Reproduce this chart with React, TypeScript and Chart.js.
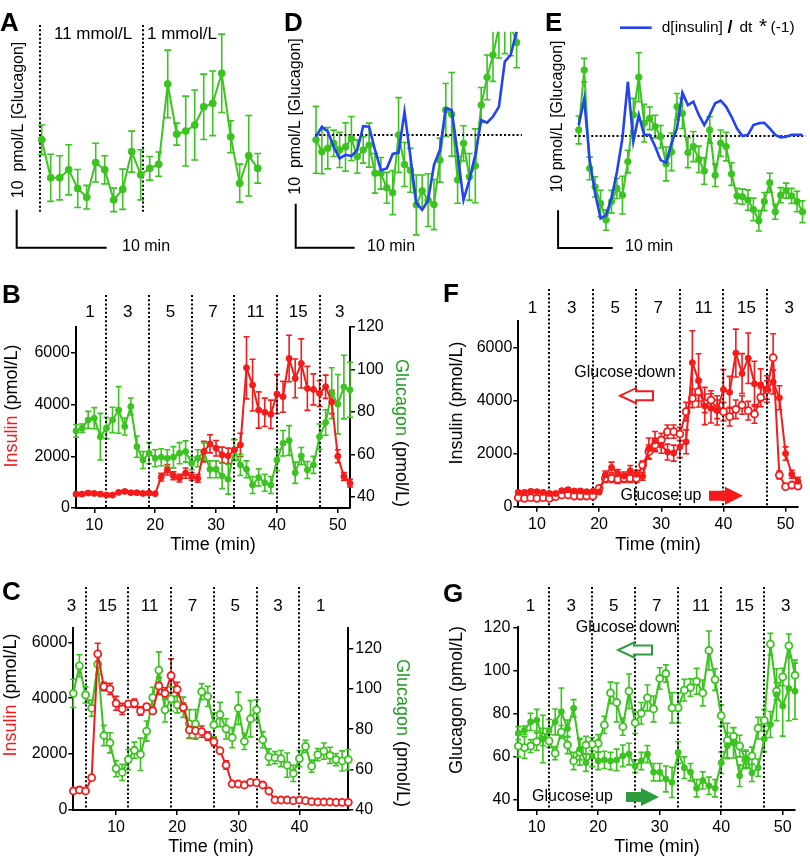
import React, { useEffect, useRef } from 'react';
import { Chart, registerables } from 'chart.js';
Chart.register(...registerables);

const FONT = "'Liberation Sans', Arial, Helvetica, sans-serif";
const RED = '#f51b1b';
const GREEN = '#3bc41f';
const TITLE_GREEN = '#1f9e22';
const ARROW_GREEN = '#2c9c3c';
const BLUE = '#2342f2';
const BLACK = '#000000';

// ---------- Panel A : glucagon (relative, pmol/L) vs time (min) ----------
const aTime = [0, 1, 2, 3, 4, 5, 6, 7, 8, 9, 10, 11, 12, 13, 14, 15, 16, 17, 18, 19, 20, 21, 22, 23, 24];
const aGlu = [24.6, 14.6, 14.6, 16.7, 11.8, 9.5, 18.6, 16.7, 8.8, 11.6, 21.5, 15.4, 17.1, 18.2, 39.3, 26.1, 26.9, 28.5, 33.3, 34.2, 42.1, 25.4, 13.2, 20.4, 17.1];
const aErr = [3.9, 6.2, 5.8, 6.6, 5.0, 3.1, 5.1, 3.7, 3.1, 5.3, 5.4, 6.6, 3.1, 3.2, 8.9, 2.9, 9.2, 9.2, 8.6, 8.5, 10.3, 4.2, 5.0, 10.6, 3.9];
const aSwitch = [-0.2, 11.3];

// ---------- Panel D ----------
const dTime = [0, 1, 2, 3, 4, 5, 6, 7, 8, 9, 10, 11, 12, 13, 14, 15, 16, 17, 18, 19, 20, 21, 22, 23, 24, 25, 26, 27, 28, 29, 30, 31, 32, 33, 34];
const dGlu = [-1.1, -3.8, -3.0, -1.9, -3.4, -2.7, -0.8, -4.9, -3.4, -2.3, -8.7, -8.7, -12.0, -13.1, 0.0, -6.7, -8.0, -15.9, -12.7, -14.8, -15.8, -5.7, 5.7, 4.7, -10.2, -1.9, -9.5, -7.0, 6.8, 13.1, 18.2, 24.5, 26.5, 25.0, 21.0];
const dErr = [7.6, 5.0, 4.7, 3.0, 4.0, 5.5, 5.0, 3.8, 3.0, 5.0, 4.5, 3.6, 3.5, 5.0, 8.5, 5.0, 5.0, 6.8, 3.6, 6.0, 5.7, 5.0, 6.0, 9.5, 5.3, 4.0, 5.3, 8.4, 4.0, 5.1, 6.0, 7.0, 8.0, 7.0, 5.7];
const dDeriv = [-0.4, 1.9, 0.8, -2.7, -5.3, -4.5, -4.8, -3.4, 2.0, 1.9, -3.4, -8.0, -7.6, -4.3, -4.0, 5.3, -4.9, -15.5, -17.0, -14.8, -6.8, -3.4, 6.1, 5.7, -4.2, -14.8, -10.2, -4.5, 3.4, 2.8, 4.2, 6.4, 16.7, 18.2, 23.5];

// ---------- Panel E ----------
const eTime = [0, 1, 2, 3, 4, 5, 6, 7, 8, 9, 10, 11, 12, 13, 14, 15, 16, 17, 18, 19, 20, 21, 22, 23, 24, 25, 26, 27, 28, 29, 30, 31, 32, 33, 34, 35, 36, 37, 38, 39, 40, 41];
const eGlu = [1.6, 17.5, -8.6, -13.5, -17.9, -22.3, -17.4, -13.9, -15.7, -6.8, 5.6, 15.6, 3.4, 4.7, 2.5, -0.2, -7.4, -4.2, 7.8, 6.0, -4.4, -2.8, -6.2, -9.3, 1.6, -10.4, -1.9, -2.8, -10.1, -15.9, -16.1, -17.0, -19.5, -22.5, -17.4, -12.4, -20.1, -15.7, -14.5, -15.9, -17.4, -20.1];
const eErr = [3.7, 3.1, 3.0, 2.7, 3.5, 2.7, 3.0, 2.7, 5.0, 3.0, 4.4, 6.5, 5.0, 3.0, 3.0, 3.0, 4.5, 5.0, 3.5, 4.0, 4.0, 4.0, 3.5, 3.5, 3.5, 3.0, 3.5, 3.8, 3.0, 2.0, 2.0, 2.7, 3.0, 2.7, 2.4, 2.5, 2.0, 2.0, 2.0, 2.0, 2.7, 2.9];
const eDeriv = [2.9, 9.8, -6.4, -15.2, -21.9, -21.0, -16.5, -9.5, -0.6, 14.4, -1.5, 5.6, 0.3, 0.3, -2.8, -6.4, -7.1, -1.9, 2.0, 11.5, 8.2, 9.1, 5.6, 2.9, 5.6, 8.7, 9.4, 7.8, 5.1, 2.0, 0.0, 0.3, 2.9, 3.4, 3.5, 2.0, 0.3, -0.4, -0.2, 0.3, 0.3, 0.3];

// ---------- Panel B (glucose up: 1,3,5,7,11,15,3 mM) ----------
const upSegments = ['1', '3', '5', '7', '11', '15', '3'];
const upSwitch = [12, 19, 26, 33, 40, 47];
const bTime = [7, 8, 9, 10, 11, 12, 13, 14, 15, 16, 17, 18, 19, 20, 21, 22, 23, 24, 25, 26, 27, 28, 29, 30, 31, 32, 33, 34, 35, 36, 37, 38, 39, 40, 41, 42, 43, 44, 45, 46, 47, 48, 49, 50, 51, 52];
const bIns = [540, 540, 578, 565, 540, 500, 500, 604, 642, 591, 591, 565, 578, 552, 1195, 1478, 1246, 1156, 1349, 1221, 1144, 2184, 2480, 2313, 2056, 2017, 2248, 2441, 5422, 4754, 3790, 3700, 3623, 4407, 4304, 5782, 5011, 5589, 4626, 4587, 4430, 4690, 4100, 2000, 1220, 960];
const bInsErr = [60, 60, 60, 60, 60, 60, 60, 60, 60, 60, 60, 60, 60, 60, 150, 200, 150, 150, 200, 150, 150, 400, 350, 300, 300, 300, 400, 450, 1200, 1000, 700, 550, 550, 750, 600, 900, 750, 950, 850, 600, 500, 450, 450, 250, 150, 150];
const bGlu = [71.0, 72.3, 76.2, 77.0, 68.3, 72.3, 76.2, 80.9, 73.1, 82.5, 63.6, 57.3, 60.5, 58.1, 58.6, 58.1, 58.6, 60.5, 61.3, 55.7, 58.1, 61.3, 52.9, 52.9, 49.8, 48.2, 62.0, 55.0, 52.9, 45.5, 49.1, 46.6, 45.5, 57.3, 65.2, 66.5, 51.3, 59.2, 52.6, 55.0, 68.3, 75.0, 88.8, 83.6, 91.7, 90.4];
const bGluErr = [3, 2, 4, 5, 11, 5, 6, 11, 4, 4, 5, 4, 5, 4, 4, 4, 5, 5, 5, 3, 4, 4, 4, 4, 6, 7, 5, 5, 4, 4, 4, 4, 4, 5, 6, 7, 5, 4, 4, 4, 6, 6, 12, 14, 15, 13];

// ---------- Panel C (glucose down: 3,15,11,7,5,3,1 mM) ----------
const downSegments = ['3', '15', '11', '7', '5', '3', '1'];
const downSwitch = [5, 12, 19, 26, 33, 40];
const cTime = [3, 4, 5, 6, 7, 8, 9, 10, 11, 12, 13, 14, 15, 16, 17, 18, 19, 20, 21, 22, 23, 24, 25, 26, 27, 28, 29, 30, 31, 32, 33, 34, 35, 36, 37, 38, 39, 40, 41, 42, 43, 44, 45, 46, 47, 48];
const cIns = [680, 716, 680, 1157, 5583, 4414, 4330, 3817, 3614, 3793, 3817, 3543, 3698, 3543, 4437, 4175, 4807, 4318, 3674, 2863, 2839, 2803, 2648, 2445, 2123, 1610, 930, 930, 895, 990, 978, 895, 680, 358, 358, 358, 334, 358, 334, 298, 286, 286, 286, 274, 274, 274];
const cInsErr = [40, 40, 40, 60, 380, 150, 200, 250, 200, 100, 150, 150, 100, 100, 300, 200, 600, 250, 150, 300, 300, 200, 150, 150, 100, 150, 60, 50, 50, 50, 50, 50, 40, 30, 30, 30, 30, 30, 30, 30, 30, 30, 30, 30, 30, 30];
const cGlu = [97.8, 111.4, 97.0, 90.4, 112.2, 76.9, 73.3, 60.5, 58.6, 65.0, 69.6, 67.6, 79.1, 95.8, 109.3, 89.6, 95.0, 92.1, 90.9, 82.7, 82.7, 98.6, 96.3, 82.2, 87.3, 80.2, 75.8, 90.4, 74.0, 85.2, 89.6, 74.8, 66.3, 65.9, 65.5, 62.2, 58.1, 65.5, 71.5, 61.7, 67.4, 69.2, 67.1, 65.0, 64.3, 65.0];
const cGluErr = [7, 5.5, 4, 4, 5, 5, 5, 4, 4, 5, 4, 8, 5, 5, 9, 6, 6, 4, 5, 7, 7, 4, 5, 6, 6, 5, 5, 8, 4, 9, 5, 4, 4, 3, 4, 6, 4, 4, 3, 3, 3, 4, 4, 3, 5, 5];

// ---------- Panel F (glucose-down insulin, replotted on the glucose-up time axis) ----------
const fOpenIns = [339, 314, 339, 314, 339, 314, 377, 440, 440, 402, 402, 402, 402, 690, 1067, 1067, 1029, 1067, 1067, 1067, 1570, 2071, 2322, 2510, 2824, 2824, 2736, 3575, 4080, 4328, 3891, 4016, 3666, 3575, 3387, 3666, 3827, 3613, 3489, 4117, 4392, 5607, 1192, 753, 816, 778];
const fOpenErr = [60, 60, 60, 60, 60, 60, 60, 60, 60, 60, 60, 60, 60, 80, 150, 150, 150, 150, 150, 150, 150, 250, 250, 250, 250, 250, 250, 350, 350, 350, 350, 350, 350, 350, 350, 350, 350, 350, 350, 350, 350, 900, 150, 60, 60, 60];
// G: glucose-down glucagon (panel C) is replotted with reversed time: t_G = 55 - t_C
const gReverse = 55;

const pts = (xs: number[], ys: number[]) => xs.map((x, i) => ({ x, y: ys[i] }));

function series(data: any[], errors: number[] | null, color: string, o: any = {}) {
  return {
    data,
    errors,
    capW: o.cap ?? 3,
    errW: o.errW ?? 1.6,
    borderColor: color,
    backgroundColor: color,
    borderWidth: o.bw ?? 2,
    pointRadius: o.r ?? 3,
    pointHoverRadius: o.r ?? 3,
    pointBackgroundColor: o.open ? '#ffffff' : color,
    pointBorderColor: color,
    pointBorderWidth: o.open ? 1.8 : 1,
    tension: 0,
    clip: o.clip ?? false,
    xAxisID: 'x',
    yAxisID: o.yAxisID ?? 'y',
  };
}

const errPlugin = {
  id: 'errbars',
  beforeDatasetsDraw(chart: any) {
    const ctx = chart.ctx;
    chart.data.datasets.forEach((ds: any, i: number) => {
      if (!ds.errors) return;
      const meta = chart.getDatasetMeta(i);
      const xs = chart.scales[meta.xAxisID];
      const ys = chart.scales[meta.yAxisID];
      ctx.save();
      if (ds.clip && typeof ds.clip === 'object' && typeof ds.clip.top === 'number') {
        ctx.beginPath();
        ctx.rect(0, chart.chartArea.top, chart.width, chart.height);
        ctx.clip();
      }
      ctx.strokeStyle = ds.borderColor;
      ctx.lineWidth = ds.errW;
      ds.data.forEach((p: any, j: number) => {
        const e = ds.errors[j];
        if (!e) return;
        const x = xs.getPixelForValue(p.x);
        const y1 = ys.getPixelForValue(p.y - e);
        const y2 = ys.getPixelForValue(p.y + e);
        const c = ds.capW;
        ctx.beginPath();
        ctx.moveTo(x, y1); ctx.lineTo(x, y2);
        ctx.moveTo(x - c, y1); ctx.lineTo(x + c, y1);
        ctx.moveTo(x - c, y2); ctx.lineTo(x + c, y2);
        ctx.stroke();
      });
      ctx.restore();
    });
  },
};

function overlay(under: any, over: any) {
  return {
    id: 'overlay',
    beforeDatasetsDraw(chart: any) {
      if (!under) return;
      const c = chart.ctx; c.save(); under(c, chart); c.restore();
    },
    afterDraw(chart: any) {
      if (!over) return;
      const c = chart.ctx; c.save(); over(c, chart); c.restore();
    },
  };
}

function txt(ctx: any, s: string, x: number, y: number, size: number, o: any = {}) {
  ctx.save();
  ctx.font = `${o.bold ? 'bold ' : ''}${size}px ${FONT}`;
  ctx.fillStyle = o.color ?? BLACK;
  ctx.textAlign = o.align ?? 'left';
  ctx.textBaseline = o.baseline ?? 'middle';
  ctx.fillText(s, x, y);
  ctx.restore();
}

function rotParts(ctx: any, parts: [string, string][], cx: number, cy: number, angle: number, size: number) {
  ctx.save();
  ctx.font = `${size}px ${FONT}`;
  ctx.translate(cx, cy);
  ctx.rotate(angle);
  const total = parts.reduce((s, [t]) => s + ctx.measureText(t).width, 0);
  let x = -total / 2;
  ctx.textBaseline = 'middle';
  ctx.textAlign = 'left';
  for (const [t, c] of parts) {
    ctx.fillStyle = c;
    ctx.fillText(t, x, 0);
    x += ctx.measureText(t).width;
  }
  ctx.restore();
}

function vDotted(ctx: any, chart: any, ts: number[], yTop: number, yBottom?: number) {
  const xs = chart.scales.x;
  const bottom = yBottom ?? chart.chartArea.bottom;
  ctx.save();
  ctx.strokeStyle = BLACK;
  ctx.lineWidth = 2;
  ctx.setLineDash([2, 2.2]);
  for (const t of ts) {
    const x = Math.round(xs.getPixelForValue(t));
    ctx.beginPath(); ctx.moveTo(x, yTop); ctx.lineTo(x, bottom); ctx.stroke();
  }
  ctx.restore();
}

function hDotted(ctx: any, chart: any, v: number, t1: number, t2: number) {
  const xs = chart.scales.x, ys = chart.scales.y;
  const y = Math.round(ys.getPixelForValue(v));
  ctx.save();
  ctx.strokeStyle = BLACK; ctx.lineWidth = 2; ctx.setLineDash([2, 2.2]);
  ctx.beginPath(); ctx.moveTo(xs.getPixelForValue(t1), y); ctx.lineTo(xs.getPixelForValue(t2), y); ctx.stroke();
  ctx.restore();
}

function segLabels(ctx: any, chart: any, labels: string[], ts: number[], y: number) {
  const xs = chart.scales.x;
  labels.forEach((l, i) => txt(ctx, l, xs.getPixelForValue(ts[i]), y, 17, { align: 'center' }));
}

function scaleBar(ctx: any, chart: any, t0: number, v0: number) {
  const xs = chart.scales.x, ys = chart.scales.y;
  const x0 = xs.getPixelForValue(t0), y0 = ys.getPixelForValue(v0);
  const x1 = xs.getPixelForValue(t0 + 10), y1 = ys.getPixelForValue(v0 + 10);
  ctx.save();
  ctx.strokeStyle = BLACK; ctx.lineWidth = 2;
  ctx.beginPath(); ctx.moveTo(x0, y1); ctx.lineTo(x0, y0); ctx.lineTo(x1, y0); ctx.stroke();
  ctx.restore();
}

function blockArrow(ctx: any, x1: number, x2: number, y: number, dir: string, shaftH: number, headH: number, headL: number, color: string, hollow: boolean) {
  ctx.save();
  ctx.beginPath();
  if (dir === 'right') {
    const xb = x2 - headL;
    ctx.moveTo(x1, y - shaftH / 2); ctx.lineTo(xb, y - shaftH / 2); ctx.lineTo(xb, y - headH / 2);
    ctx.lineTo(x2, y); ctx.lineTo(xb, y + headH / 2); ctx.lineTo(xb, y + shaftH / 2); ctx.lineTo(x1, y + shaftH / 2);
  } else {
    const xb = x1 + headL;
    ctx.moveTo(x2, y - shaftH / 2); ctx.lineTo(xb, y - shaftH / 2); ctx.lineTo(xb, y - headH / 2);
    ctx.lineTo(x1, y); ctx.lineTo(xb, y + headH / 2); ctx.lineTo(xb, y + shaftH / 2); ctx.lineTo(x2, y + shaftH / 2);
  }
  ctx.closePath();
  if (hollow) {
    ctx.fillStyle = '#ffffff'; ctx.fill();
    ctx.lineWidth = 2; ctx.strokeStyle = color; ctx.stroke();
  } else {
    ctx.fillStyle = color; ctx.fill();
  }
  ctx.restore();
}

function base(padding: any) {
  return {
    responsive: false,
    animation: false,
    devicePixelRatio: 1,
    events: [],
    layout: { padding },
    plugins: { legend: { display: false }, tooltip: { enabled: false } },
  };
}

function hidden(min: number, max: number) {
  return { type: 'linear', display: false, min, max, bounds: 'data' };
}

function axis(pos: string, min: number, max: number, ticks: number[], size: number, pad = 2) {
  return {
    type: 'linear',
    position: pos,
    min, max,
    bounds: 'data',
    afterBuildTicks: (s: any) => { s.ticks = ticks.map((v) => ({ value: v })); },
    afterFit: (s: any) => { if (pos === 'bottom') s.height = size; else s.width = size; },
    grid: { display: true, drawOnChartArea: false, drawTicks: true, tickLength: 5, color: BLACK, lineWidth: 1.5 },
    border: { display: true, color: BLACK, width: 2 },
    ticks: {
      color: BLACK,
      font: { size: 16, family: FONT },
      padding: pad,
      maxRotation: 0,
      autoSkip: false,
      callback: (v: any) => String(v),
    },
    title: { display: false },
  };
}

// panel placement on the page (x, y, w, h)
const PANELS: any[] = [];

// ---- A ----
PANELS.push({
  x: 0, y: 0, w: 272, h: 262,
  config: () => ({
    type: 'line',
    data: { datasets: [series(pts(aTime, aGlu), aErr, GREEN, { r: 3.5, cap: 3.5 })] },
    options: { ...base({ left: 10, right: 6, top: 20, bottom: 10 }), scales: { x: hidden(-3.522, 24.92), y: hidden(-4.92, 56.13) } },
    plugins: [errPlugin, overlay(
      (ctx: any, ch: any) => {
        const ys = ch.scales.y;
        vDotted(ctx, ch, aSwitch, ys.getPixelForValue(54.8), ys.getPixelForValue(5.3));
      },
      (ctx: any, ch: any) => {
        txt(ctx, 'A', 0, 31, 26, { bold: true, baseline: 'alphabetic' });
        txt(ctx, '11 mmol/L', 54, 34, 17);
        txt(ctx, '1 mmol/L', 147, 34, 17);
        rotParts(ctx, [['10  pmol/L [Glucagon]', BLACK]], 19, 120, -Math.PI / 2, 16);
        scaleBar(ctx, ch, -2.78, -3.8);
        txt(ctx, '10 min', 122, 247, 16);
      })],
  }),
});

// ---- D ----
PANELS.push({
  x: 275, y: 0, w: 262, h: 262,
  config: () => ({
    type: 'line',
    data: {
      datasets: [
        { ...series(pts(dTime, dDeriv), null, BLUE, { r: 0, bw: 2.6, clip: { left: false, top: 0, right: false, bottom: false } }) },
        series(pts(dTime, dGlu), dErr, GREEN, { r: 3.3, cap: 3.3, clip: { left: false, top: 0, right: false, bottom: false } }),
      ],
    },
    options: { ...base({ left: 10, right: 5, top: 31.7, bottom: 10 }), scales: { x: hidden(-5.254, 36.61), y: hidden(-26.59, 23.48) } },
    plugins: [errPlugin, overlay(
      (ctx: any, ch: any) => { hDotted(ctx, ch, 0, -0.17, 34.9); },
      (ctx: any, ch: any) => {
        txt(ctx, 'D', 9, 31, 26, { bold: true, baseline: 'alphabetic' });
        rotParts(ctx, [['10  pmol/L [Glucagon]', BLACK]], 20.5, 116.5, -Math.PI / 2, 16);
        scaleBar(ctx, ch, -3.44, -25.6);
        txt(ctx, '10 min', 92, 247, 16);
      })],
  }),
});

// ---- E ----
PANELS.push({
  x: 540, y: 0, w: 270, h: 262,
  config: () => ({
    type: 'line',
    data: {
      datasets: [
        series(pts(eTime, eDeriv), null, BLUE, { r: 0, bw: 2.6 }),
        series(pts(eTime, eGlu), eErr, GREEN, { r: 3.2, cap: 3.2 }),
      ],
    },
    options: { ...base({ left: 5, right: 0, top: 20, bottom: 10 }), scales: { x: hidden(-6.186, 41.605), y: hidden(-30.79, 30.79) } },
    plugins: [errPlugin, overlay(
      (ctx: any, ch: any) => { hDotted(ctx, ch, 0, -0.78, 41.6); },
      (ctx: any, ch: any) => {
        txt(ctx, 'E', 5, 31, 26, { bold: true, baseline: 'alphabetic' });
        ctx.save();
        ctx.strokeStyle = BLUE; ctx.lineWidth = 2.6;
        ctx.beginPath(); ctx.moveTo(80, 27.7); ctx.lineTo(111.7, 27.7); ctx.stroke();
        ctx.restore();
        txt(ctx, 'd[insulin]', 121.7, 28, 15.5);
        txt(ctx, '/', 187.5, 28, 18, { bold: true });
        txt(ctx, 'dt', 199.5, 28, 15.5);
        txt(ctx, '*', 219, 27, 21);
        txt(ctx, '(-1)', 230.5, 28, 15.5);
        rotParts(ctx, [['10 pmol/L [Glucagon]', BLACK]], 18, 116.5, -Math.PI / 2, 16);
        scaleBar(ctx, ch, -3.79, -29.7);
        txt(ctx, '10 min', 85, 247, 16);
      })],
  }),
});

// ---- B ----
PANELS.push({
  x: 0, y: 262, w: 410, h: 296,
  config: () => ({
    type: 'line',
    data: {
      datasets: [
        series(pts(bTime, bIns), bInsErr, RED, { yAxisID: 'yL', r: 3 }),
        series(pts(bTime, bGlu), bGluErr, GREEN, { yAxisID: 'yR', r: 3 }),
      ],
    },
    options: {
      ...base({ left: 0, right: 0, top: 65, bottom: 0 }),
      scales: {
        x: axis('bottom', 7, 52, [10, 20, 30, 40, 50], 50, 3),
        yL: axis('left', 0, 7000, [0, 2000, 4000, 6000], 76, 1),
        yR: axis('right', 34.67, 120, [40, 60, 80, 100, 120], 60, 2),
      },
    },
    plugins: [errPlugin, overlay(
      (ctx: any, ch: any) => { vDotted(ctx, ch, upSwitch, 33); },
      (ctx: any, ch: any) => {
        txt(ctx, 'B', 2, 41, 26, { bold: true, baseline: 'alphabetic' });
        segLabels(ctx, ch, upSegments, [9.3, 15.5, 22.5, 29.5, 36.5, 43.5, 50.3], 50);
        rotParts(ctx, [['Insulin', RED], [' (pmol/L)', BLACK]], 12.5, 144, -Math.PI / 2, 18);
        rotParts(ctx, [['Glucagon', TITLE_GREEN], [' (pmol/L)', BLACK]], 400.5, 171, Math.PI / 2, 18);
        txt(ctx, 'Time (min)', 213, 283, 18, { align: 'center' });
      })],
  }),
});

// ---- C ----
PANELS.push({
  x: 0, y: 560, w: 410, h: 296,
  config: () => ({
    type: 'line',
    data: {
      datasets: [
        series(pts(cTime, cIns), cInsErr, RED, { yAxisID: 'yL', r: 3.5, open: true }),
        series(pts(cTime, cGlu), cGluErr, GREEN, { yAxisID: 'yR', r: 3.5, open: true }),
      ],
    },
    options: {
      ...base({ left: 0, right: 0, top: 68.3, bottom: 0 }),
      scales: {
        x: axis('bottom', 3, 48, [10, 20, 30, 40], 46, 3),
        yL: axis('left', 0, 6500, [0, 2000, 4000, 6000], 73.3, 1),
        yR: axis('right', 40, 130, [40, 60, 80, 100, 120], 61.7, 2),
      },
    },
    plugins: [errPlugin, overlay(
      (ctx: any, ch: any) => { vDotted(ctx, ch, downSwitch, 27); },
      (ctx: any, ch: any) => {
        txt(ctx, 'C', 2, 40, 26, { bold: true, baseline: 'alphabetic' });
        segLabels(ctx, ch, downSegments, [2.7, 8.6, 15.5, 22.5, 29.5, 36.5, 43.5], 46.7);
        rotParts(ctx, [['Insulin', RED], [' (pmol/L)', BLACK]], 11.5, 135, -Math.PI / 2, 18);
        rotParts(ctx, [['Glucagon', TITLE_GREEN], [' (pmol/L)', BLACK]], 401.5, 173, Math.PI / 2, 18);
        txt(ctx, 'Time (min)', 211, 287.5, 18, { align: 'center' });
      })],
  }),
});

// ---- F ----
PANELS.push({
  x: 410, y: 262, w: 400, h: 296,
  config: () => ({
    type: 'line',
    data: {
      datasets: [
        series(pts(bTime, bIns), bInsErr, RED, { r: 3 }),
        series(pts(bTime, fOpenIns), fOpenErr, RED, { r: 3.5, open: true }),
      ],
    },
    options: {
      ...base({ left: 0, right: 12, top: 58.7, bottom: 0 }),
      scales: {
        x: axis('bottom', 7, 52, [10, 20, 30, 40, 50], 51.3, 3),
        y: axis('left', 0, 7000, [0, 2000, 4000, 6000], 108.3, 1),
      },
    },
    plugins: [errPlugin, overlay(
      (ctx: any, ch: any) => { vDotted(ctx, ch, upSwitch, 27); },
      (ctx: any, ch: any) => {
        txt(ctx, 'F', 33, 40, 26, { bold: true, baseline: 'alphabetic' });
        segLabels(ctx, ch, upSegments, [9.3, 15.6, 22.6, 29.5, 36.8, 43.7, 50.6], 46.3);
        rotParts(ctx, [['Insulin (pmol/L)', BLACK]], 47, 141, -Math.PI / 2, 18);
        txt(ctx, 'Time (min)', 248, 283, 18, { align: 'center' });
        txt(ctx, 'Glucose down', 215, 111, 16, { align: 'center' });
        blockArrow(ctx, 210, 243, 133.7, 'left', 9, 15, 16, RED, true);
        txt(ctx, 'Glucose up', 251, 234, 16, { align: 'center' });
        blockArrow(ctx, 299, 333, 233.7, 'right', 10, 18, 18, RED, false);
      })],
  }),
});

// ---- G ----
PANELS.push({
  x: 410, y: 560, w: 400, h: 296,
  config: () => ({
    type: 'line',
    data: {
      datasets: [
        series(pts(bTime, bGlu), bGluErr, GREEN, { r: 3 }),
        series(pts(cTime.map((t) => gReverse - t), cGlu), cGluErr, GREEN, { r: 3.5, open: true }),
      ],
    },
    options: {
      ...base({ left: 0, right: 15, top: 67.3, bottom: 0 }),
      scales: {
        x: axis('bottom', 7, 52, [10, 20, 30, 40, 50], 46, 3),
        y: axis('left', 35.4, 120, [40, 60, 80, 100, 120], 108.3, 3),
      },
    },
    plugins: [errPlugin, overlay(
      (ctx: any, ch: any) => { vDotted(ctx, ch, upSwitch, 27); },
      (ctx: any, ch: any) => {
        txt(ctx, 'G', 33, 42, 26, { bold: true, baseline: 'alphabetic' });
        segLabels(ctx, ch, upSegments, [9.0, 15.6, 22.5, 29.5, 36.7, 43.8, 50.5], 46);
        rotParts(ctx, [['Glucagon (pmol/L)', BLACK]], 47, 140, -Math.PI / 2, 18);
        txt(ctx, 'Time (min)', 247, 287.5, 18, { align: 'center' });
        txt(ctx, 'Glucose down', 216.5, 68, 16, { align: 'center' });
        blockArrow(ctx, 208, 242, 90, 'left', 9, 15, 16, ARROW_GREEN, true);
        txt(ctx, 'Glucose up', 162.5, 237, 16, { align: 'center' });
        blockArrow(ctx, 216, 249, 237, 'right', 10, 18, 18, ARROW_GREEN, false);
      })],
  }),
});

export default function App() {
  const refs = useRef<(HTMLCanvasElement | null)[]>([]);
  useEffect(() => {
    document.body.style.margin = '0';
    Chart.defaults.font.family = FONT;
    const charts = PANELS.map((p, i) => new Chart(refs.current[i] as HTMLCanvasElement, p.config()));
    return () => charts.forEach((c) => c.destroy());
  }, []);
  return (
    <div style={{ position: 'absolute', left: 0, top: 0, width: 810, height: 859, background: '#ffffff', overflow: 'hidden' }}>
      {PANELS.map((p, i) => (
        <canvas
          key={i}
          ref={(el) => { refs.current[i] = el; }}
          width={p.w}
          height={p.h}
          style={{ position: 'absolute', left: p.x, top: p.y, width: p.w, height: p.h }}
        />
      ))}
    </div>
  );
}
